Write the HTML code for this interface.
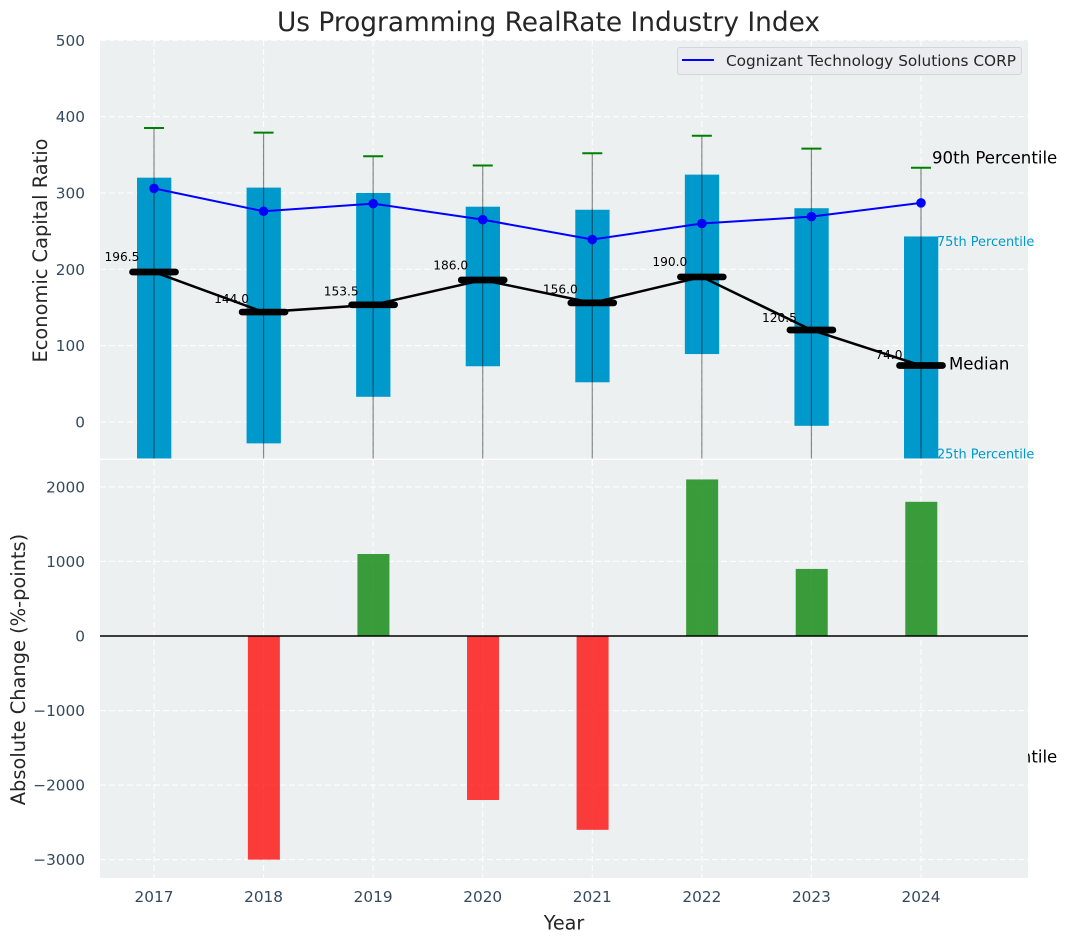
<!DOCTYPE html>
<html>
<head>
<meta charset="utf-8">
<title>Us Programming RealRate Industry Index</title>
<style>
html,body{margin:0;padding:0;background:#fff;width:1067px;height:942px;overflow:hidden}
svg{display:block;font-family:"DejaVu Sans","Liberation Sans",sans-serif}
</style>
</head>
<body>
<svg id="chart" width="1067" height="942" viewBox="0 0 1067 942" xmlns="http://www.w3.org/2000/svg">
<defs>
<clipPath id="top-clip"><rect x="100" y="40" width="928" height="418.5"/></clipPath>
<clipPath id="bottom-clip"><rect x="100" y="460" width="928" height="418"/></clipPath>
</defs>
</svg>
<script>
const years = [2017, 2018, 2019, 2020, 2021, 2022, 2023, 2024];
const p90 = [385, 379, 348, 336, 352, 375, 358, 333];
const p75 = [320, 307, 300, 282, 278, 324, 280, 243];
const medians = [196.5, 144.0, 153.5, 186.0, 156.0, 190.0, 120.5, 74.0];
const p25 = [-60, -28, 33, 73, 52, 89, -5, -48];
const p10 = [-380, -400, -350, -300, -320, -330, -360, -439];
const companyValues = [306, 276, 286, 265, 239, 260, 269, 287];
const changes = [0, -3000, 1100, -2200, -2600, 2100, 900, 1800];
const topTicks = [0, 100, 200, 300, 400, 500];
const bottomTicks = [-3000, -2000, -1000, 0, 1000, 2000];
const legendLabel = 'Cognizant Technology Solutions CORP';

const svg = document.getElementById('chart');
const NS = 'http://www.w3.org/2000/svg';
const x = v => 154 + (v - 2017) * 109.57;
const yTop = v => 422 - v * 0.7635;
const yBottom = v => 636 - v * 0.07455;
const minus = v => String(v).replace('-', '\u2212');

function mk(parent, tag, attrs, content) {
  const el = document.createElementNS(NS, tag);
  for (const k in attrs) el.setAttribute(k, attrs[k]);
  if (content !== undefined) el.textContent = content;
  parent.appendChild(el);
  return el;
}

let el;
/* ---------- top panel ---------- */
const topPanel = mk(svg, 'g', {});



el = mk(topPanel, 'rect', {x: 100, y: 40, width: 928, height: 418.5, fill: '#ecf0f1'});



const topMarks = mk(topPanel, 'g', {'clip-path': 'url(#top-clip)'});



topTicks.forEach(t => {
  el = mk(topMarks, 'line', {x1: 100, x2: 1028, y1: yTop(t), y2: yTop(t), stroke: '#fff', 'stroke-width': 1.2, 'stroke-dasharray': '6 3', 'stroke-opacity': 0.85});
  
  
});
years.forEach(yr => {
  el = mk(topMarks, 'line', {x1: x(yr), x2: x(yr), y1: 40, y2: 459, stroke: '#fff', 'stroke-width': 1.2, 'stroke-dasharray': '6 3', 'stroke-opacity': 0.85});
  
  
});

years.forEach((yr, i) => {
  el = mk(topMarks, 'rect', {x: x(yr) - 17, y: yTop(p75[i]), width: 34.3, height: yTop(p25[i]) - yTop(p75[i]), fill: '#0099cc'});
  
  
});
years.forEach((yr, i) => {
  el = mk(topMarks, 'line', {x1: x(yr), x2: x(yr), y1: yTop(p90[i]), y2: yTop(p10[i]), stroke: '#000', 'stroke-opacity': 0.45, 'stroke-width': 1.2});
  
  
  el = mk(topMarks, 'line', {x1: x(yr) - 10, x2: x(yr) + 10, y1: yTop(p90[i]), y2: yTop(p90[i]), stroke: '#008000', 'stroke-width': 2});
  
  
});

el = mk(topMarks, 'polyline', {points: years.map((yr, i) => x(yr) + ',' + yTop(medians[i])).join(' '), fill: 'none', stroke: '#000', 'stroke-width': 2.5});



years.forEach((yr, i) => {
  el = mk(topMarks, 'line', {x1: x(yr) - 21.5, x2: x(yr) + 21.5, y1: yTop(medians[i]), y2: yTop(medians[i]), stroke: '#000', 'stroke-width': 6.7, 'stroke-linecap': 'round'});
  
  
});

el = mk(topMarks, 'polyline', {points: years.map((yr, i) => x(yr) + ',' + yTop(companyValues[i])).join(' '), fill: 'none', stroke: '#0000ff', 'stroke-width': 2});



years.forEach((yr, i) => {
  el = mk(topMarks, 'circle', {cx: x(yr), cy: yTop(companyValues[i]), r: 4.8, fill: '#0000ff'});
  
  
});

years.forEach((yr, i) => {
  el = mk(topPanel, 'text', {x: x(yr) - 32, y: yTop(medians[i] * 1.05) - 3.5, 'text-anchor': 'middle', 'font-size': 12.2, fill: '#000'}, medians[i].toFixed(1));
  
  
});

const last = years.length - 1;
const lastX = x(years[last]);
el = mk(topPanel, 'text', {x: lastX + 11, y: yTop(p90[last]) - 4.5, 'font-size': 16.6, fill: '#000'}, '90th Percentile');


el = mk(topPanel, 'text', {x: lastX + 16, y: yTop(p75[last]) + 9.5, 'font-size': 12.9, fill: '#0099cc'}, '75th Percentile');


el = mk(topPanel, 'text', {x: lastX + 28, y: yTop(medians[last]) + 4, 'font-size': 16.6, fill: '#000'}, 'Median');


el = mk(topPanel, 'text', {x: lastX + 16, y: yTop(p25[last]), 'font-size': 12.9, fill: '#0099cc'}, '25th Percentile');


el = mk(topPanel, 'text', {x: lastX + 11, y: yTop(p10[last]) + 5.5, 'font-size': 16.6, fill: '#000'}, '10th Percentile');



/* legend */
const legend = mk(topPanel, 'g', {});


el = mk(legend, 'rect', {x: 677.5, y: 47.5, width: 344, height: 27, rx: 2.5, fill: '#eaecf0', stroke: '#d4d6d9', 'stroke-width': 1});


el = mk(legend, 'line', {x1: 682, x2: 714, y1: 60, y2: 60, stroke: '#0000ff', 'stroke-width': 2});


el = mk(legend, 'text', {x: 726, y: 66, 'font-size': 15.3, fill: '#262626'}, legendLabel);



/* ---------- bottom panel ---------- */
const bottomPanel = mk(svg, 'g', {});



el = mk(bottomPanel, 'rect', {x: 100, y: 460, width: 928, height: 418, fill: '#ecf0f1'});



const bottomMarks = mk(bottomPanel, 'g', {'clip-path': 'url(#bottom-clip)'});



bottomTicks.forEach(t => {
  el = mk(bottomMarks, 'line', {x1: 100, x2: 1028, y1: yBottom(t), y2: yBottom(t), stroke: '#fff', 'stroke-width': 1.2, 'stroke-dasharray': '6 3', 'stroke-opacity': 0.85});
  
  
});
years.forEach(yr => {
  el = mk(bottomMarks, 'line', {x1: x(yr), x2: x(yr), y1: 460, y2: 878, stroke: '#fff', 'stroke-width': 1.2, 'stroke-dasharray': '6 3', 'stroke-opacity': 0.85});
  
  
});

years.forEach((yr, i) => {
  const v = changes[i];
  const top = Math.min(yBottom(v), yBottom(0));
  const h = Math.abs(yBottom(v) - yBottom(0));
  el = mk(bottomMarks, 'rect', {x: x(yr) - 15.7, y: top, width: 32, height: h, fill: v < 0 ? '#ff0000' : '#008000', 'fill-opacity': 0.76});
  
  
});

el = mk(bottomMarks, 'line', {x1: 100, x2: 1028, y1: yBottom(0), y2: yBottom(0), stroke: '#000', 'stroke-width': 1.5});



/* ---------- axes text ---------- */
topTicks.forEach(t => {
  el = mk(svg, 'text', {x: 85, y: yTop(t) + 5.5, 'text-anchor': 'end', 'font-size': 15.3, fill: '#34495e'}, minus(t));
  
  
});
bottomTicks.forEach(t => {
  el = mk(svg, 'text', {x: 85, y: yBottom(t) + 5.5, 'text-anchor': 'end', 'font-size': 15.3, fill: '#34495e'}, minus(t));
  
  
});
years.forEach(yr => {
  el = mk(svg, 'text', {x: x(yr), y: 902, 'text-anchor': 'middle', 'font-size': 15.3, fill: '#34495e'}, yr);
  
  
});

el = mk(svg, 'text', {x: 548.5, y: 31, 'text-anchor': 'middle', 'font-size': 26.4, fill: '#262626'}, 'Us Programming RealRate Industry Index');


el = mk(svg, 'text', {x: 564, y: 929.5, 'text-anchor': 'middle', 'font-size': 19.2, fill: '#262626'}, 'Year');


el = mk(svg, 'text', {x: 0, y: 0, transform: 'translate(47 250.5) rotate(-90)', 'text-anchor': 'middle', 'font-size': 19.4, fill: '#262626'}, 'Economic Capital Ratio');


el = mk(svg, 'text', {x: 0, y: 0, transform: 'translate(25 669.5) rotate(-90)', 'text-anchor': 'middle', 'font-size': 19.4, fill: '#262626'}, 'Absolute Change (%-points)');


</script>
</body>
</html>
